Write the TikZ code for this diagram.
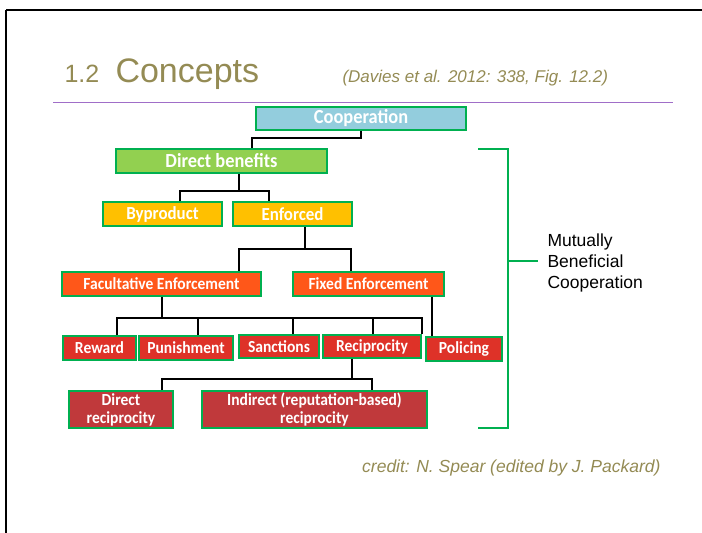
\documentclass[tikz,border=0pt]{standalone}
\usepackage{fontspec}
\setmainfont{Liberation Sans}
\newfontfamily\boxfont{Carlito}[FakeStretch=0.92]
\usepackage{xcolor}
\usepackage{tikz}
\definecolor{olive}{RGB}{148,139,84}
\definecolor{rulepurple}{RGB}{160,110,200}
\definecolor{edgegreen}{RGB}{0,176,80}
\definecolor{coopblue}{RGB}{147,205,221}
\definecolor{benefitgreen}{RGB}{146,208,80}
\definecolor{enforceyellow}{RGB}{255,192,0}
\definecolor{strategyorange}{RGB}{255,87,25}
\definecolor{mechred}{RGB}{222,50,40}
\definecolor{recipred}{RGB}{192,57,59}
\tikzset {
  % every box of the tree
  box/.style = {draw=edgegreen, line width=1.6pt, inner sep=0pt,
    text=white, align=center, font=\boxfont\bfseries\fontsize{16.9}{18}\selectfont},
  % one fill per level
  top/.style={box, fill=coopblue, font=\boxfont\bfseries\fontsize{20}{20}\selectfont},
  benefit/.style={box, fill=benefitgreen, font=\boxfont\bfseries\fontsize{20}{20}\selectfont},
  kind/.style={box, fill=enforceyellow, font=\boxfont\bfseries\fontsize{18.4}{20}\selectfont},
  strategy/.style={box, fill=strategyorange},
  mech/.style={box, fill=mechred},
  recip/.style={box, fill=recipred},
  % tree lines and the bracket
  link/.style={black, line width=2pt},
  bracket/.style={edgegreen, line width=2.5pt},
  frame/.style={black, line width=2.5pt},
}

\begin{document}
\begin{tikzpicture}[x=1pt, y=-1pt]
        \useasboundingbox (0,0) rectangle (702,533);
        % slide frame
        \coordinate (fcorner) at (6,10);
        \draw [frame] (fcorner) -- (702,10);
        \draw [frame] (fcorner) -- (6,533);

        % heading
        \node[anchor=base west, olive, font=\fontsize{25}{28}\selectfont] (num) at (61,82) {1.2};
        \node[anchor=base west, olive, font=\fontsize{34}{38}\selectfont] (title) at (112,82) {Concepts};
        \node[anchor=base west, olive, font=\itshape\fontsize{17}{20}\selectfont] (src) at (339,82) {(Davies et al. 2012: 338, Fig. 12.2)};
        \draw [rulepurple, line width=1pt] (53,102.5) -- (673,102.5);

        \node[top, minimum width=210pt, minimum height=23pt] (coop) at (361,118.5) {Cooperation};
        \node[benefit, minimum width=211pt, minimum height=24pt] (direct) at (221.5,161) {Direct benefits};
        \node[kind, minimum width=119pt, minimum height=24pt] (byprod) at (162.5,214) {Byproduct};
        \node[kind, minimum width=119pt, minimum height=24pt] (enforced) at (292.5,214) {Enforced};
        \node[strategy, minimum width=199pt, minimum height=24pt] (facult) at (161.5,284) {Facultative Enforcement};
        \node[strategy, minimum width=151pt, minimum height=24pt] (fixed) at (368.5,284) {Fixed Enforcement};
        \node[mech, minimum width=73pt, minimum height=24pt] (reward) at (99.5,348) {Reward};
        \node[mech, minimum width=94pt, minimum height=24pt] (punish) at (186,348) {Punishment};
        \node[mech, minimum width=80pt, minimum height=23pt] (sanct) at (279,346.5) {Sanctions};
        \node[mech, minimum width=98pt, minimum height=23pt] (reciproc) at (372,346.5) {Reciprocity};
        \node[mech, minimum width=76pt, minimum height=24pt] (policing) at (464,349) {Policing};
        \node[recip, minimum width=104pt, minimum height=37pt] (dirrec) at (121,409.5) {Direct\\reciprocity};
        \node[recip, minimum width=225pt, minimum height=37pt] (indirrec) at (314.5,409.5) {Indirect (reputation-based)\\reciprocity};

        \draw [link] (coop.south) -- ++(0,7) -| ([xshift=30.5pt]direct.north);
        \draw [link] ([xshift=17.5pt]direct.south) -- ++(0,17) coordinate (j1);
        \draw [link] ([xshift=17.5pt]byprod.north) |- (j1) -| ([xshift=-23.5pt]enforced.north);
        \draw [link] ([xshift=12.5pt]enforced.south) -- ++(0,22) coordinate (j2);
        \draw [link] ([xshift=77.5pt]facult.north) |- (j2) -| ([xshift=-17.5pt]fixed.north);
        \draw [link] ([xshift=0.5pt]facult.south) -- ++(0,21) coordinate (j3);
        \draw [link] ([xshift=17.5pt]reward.north) |- (j3) -| (reciproc.north east);
        \draw [link] ([xshift=12pt]punish.north) -- ([xshift=12pt]punish.north |- j3);
        \draw [link] ([xshift=14pt]sanct.north) -- ([xshift=14pt]sanct.north |- j3);
        \draw [link] ([xshift=1pt]reciproc.north) -- ([xshift=1pt]reciproc.north |- j3);
        \draw [link] ([xshift=63.5pt]fixed.south) -- ([xshift=-32pt]policing.north);
        \draw [link] ([xshift=-20pt]reciproc.south) -- ++(0,20) coordinate (j4);
        \draw [link] ([xshift=41pt]dirrec.north) |- (j4) -| ([xshift=57.5pt]indirrec.north);

        % bracket round the tree
        \coordinate (brtop) at (478,149);
        \coordinate (brbot) at (478,428);
        \coordinate (brmid) at (508,261);
        \draw [bracket] (brtop) -- ++(30,0) |- (brbot);
        \draw [bracket] (brmid) -- ++(30,0);
        \node[anchor=west, align=left, font=\fontsize{17.5}{21}\selectfont] (mbc) at (544,263) {Mutually\\Beneficial\\Cooperation};

        \node[anchor=east, olive, font=\itshape\fontsize{17.5}{20}\selectfont] (credit) at (664,468) {credit: N. Spear (edited by J. Packard)};
      \end{tikzpicture}
\end{document}
